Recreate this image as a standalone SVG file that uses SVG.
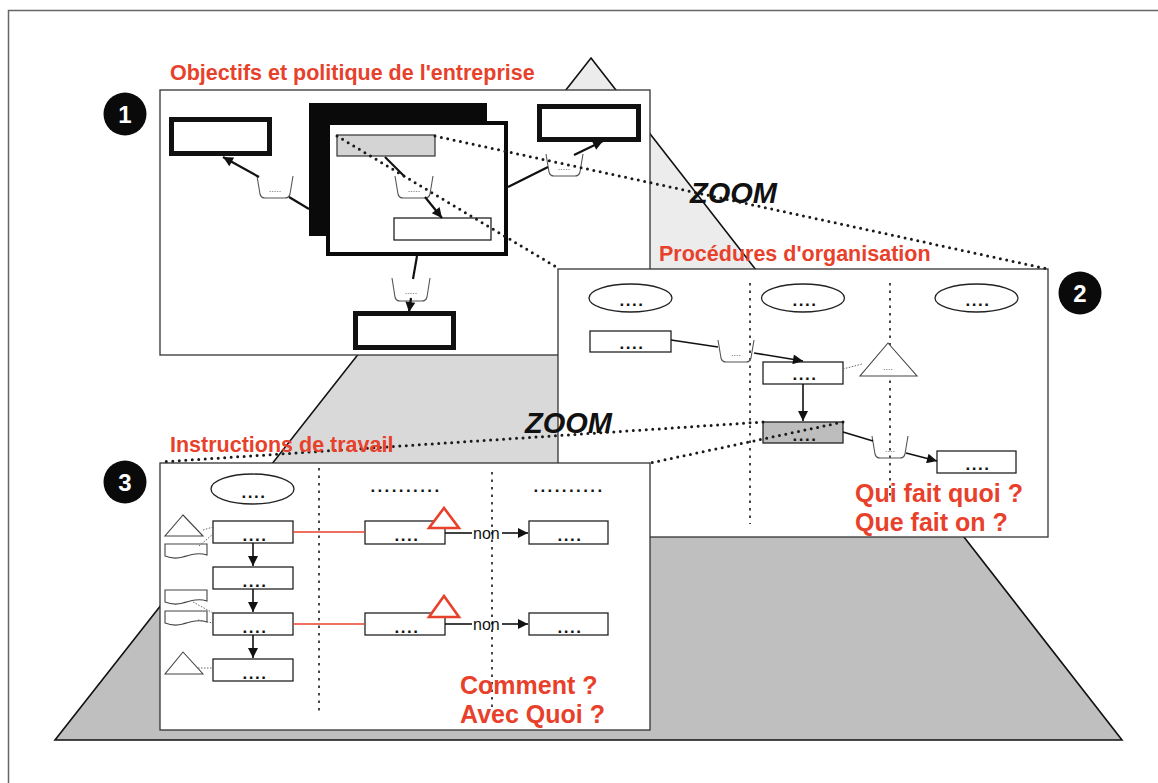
<svg xmlns="http://www.w3.org/2000/svg" width="1158" height="783" viewBox="0 0 1158 783">
  <defs>
    <marker id="arr" viewBox="0 0 10 10" refX="10" refY="5" markerUnits="userSpaceOnUse" markerWidth="13" markerHeight="10" orient="auto">
      <path d="M0,0 L10,5 L0,10 z" fill="#111"/>
    </marker>
    <style>
      .panel { fill: #fff; stroke: #333; stroke-width: 1.3; }
      .title { font-family: "Liberation Sans", Arial, sans-serif; font-weight: bold; font-size: 21.5px; fill: #e8412b; }
      .q { font-family: "Liberation Sans", Arial, sans-serif; font-weight: bold; font-size: 25px; fill: #e8412b; }
      .zoom { font-family: "Liberation Sans", Arial, sans-serif; font-weight: bold; font-style: italic; font-size: 29px; fill: #111; }
      .num { font-family: "Liberation Sans", Arial, sans-serif; font-weight: bold; font-size: 24px; fill: #fff; text-anchor: middle; }
      .thick { fill: #fff; stroke: #111; stroke-width: 5; }
      .box { fill: #fff; stroke: #222; stroke-width: 1.3; }
      .dots { font-family: "Liberation Sans", Arial, sans-serif; font-weight: bold; font-size: 17px; fill: #111; text-anchor: middle; letter-spacing: 1.5px; }
      .hdots { letter-spacing: 2.4px; }
      .tiny { font-family: "Liberation Sans", Arial, sans-serif; font-size: 9px; fill: #666; text-anchor: middle; }
      .tray { fill: none; stroke: #555; stroke-width: 1.1; }
      .link { stroke: #111; stroke-width: 2.2; fill: none; }
      .link2 { stroke: #111; stroke-width: 1.6; fill: none; }
      .lane { stroke: #333; stroke-width: 1.8; stroke-dasharray: 2.5 5; fill: none; }
      .zline { stroke: #1a1a1a; stroke-width: 3; stroke-dasharray: 0 6.5; stroke-linecap: round; fill: none; }
      .fine { stroke: #666; stroke-width: 1; stroke-dasharray: 1.5 1.5; fill: none; }
      .red { stroke: #e8412b; stroke-width: 1.3; fill: none; }
      .redtri { fill: #fff; stroke: #e8412b; stroke-width: 2.6; }
      .shape { fill: #fff; stroke: #444; stroke-width: 1.1; }
      .non { font-family: "Liberation Sans", Arial, sans-serif; font-size: 16px; fill: #111; }
    </style>
  </defs>

  <!-- outer frame -->
  <rect x="8.5" y="10.5" width="1170" height="800" fill="#fff" stroke="#666" stroke-width="1.5"/>

  <!-- pyramid in three levels -->
  <g id="pyramid">
    <polygon points="591,58 795,320 385,320" fill="#ececec"/>
    <polygon points="385,320 795,320 935,500 244,500" fill="#d9d9d9"/>
    <polygon points="244,500 935,500 1122,740 55,740" fill="#bfbfbf"/>
    <polygon points="591,58 1122,740 55,740" fill="none" stroke="#111" stroke-width="1.6"/>
  </g>

  <!-- level 1: company objectives -->
  <g id="panel1">
    <text class="title" x="170" y="80">Objectifs et politique de l'entreprise</text>
    <rect class="panel" x="160" y="90" width="490" height="265"/>
    <rect class="thick" x="171.5" y="119.5" width="98" height="34"/>
    <rect x="309" y="103" width="178" height="133" fill="#0a0a0a"/>
    <rect x="328" y="123" width="178" height="131" fill="#fff" stroke="#0a0a0a" stroke-width="4"/>
    <rect x="337" y="135" width="98" height="21" fill="#d4d4d4" stroke="#333" stroke-width="1.2"/>
    <rect class="box" x="394" y="218" width="97" height="22"/>
    <rect class="thick" x="539.5" y="106.5" width="99" height="33"/>
    <rect class="thick" x="355.5" y="313.5" width="98" height="34"/>

    <path class="tray" d="M257,176 L260,194 Q261,198 265,198 L285,198 Q289,198 290,194 L293,176"/>
    <text class="tiny" x="275" y="192">.....</text>
    <path class="tray" d="M395,176 L398,194 Q399,198 403,198 L425,198 Q429,198 430,194 L433,176"/>
    <text class="tiny" x="414" y="192">.....</text>
    <path class="tray" d="M546,154 L549,172 Q550,176 554,176 L575,176 Q579,176 580,172 L583,154"/>
    <text class="tiny" x="564" y="170">.....</text>
    <path class="tray" d="M392,278 L395,297 Q396,301 400,301 L422,301 Q426,301 427,297 L430,278"/>
    <text class="tiny" x="411" y="294">.....</text>
  </g>

  <g id="badge1">
    <circle cx="125" cy="114" r="21.5" fill="#0a0a0a"/>
    <text class="num" x="125" y="123">1</text>
  </g>

  <!-- level 2: organisation procedures -->
  <g id="panel2">
    <rect class="panel" x="558" y="269" width="490" height="268"/>
    <line class="lane" x1="750" y1="283" x2="750" y2="524"/>
    <line class="lane" x1="890" y1="283" x2="890" y2="500"/>

    <ellipse class="box" cx="630.5" cy="298" rx="41.5" ry="14" stroke-width="1.8"/>
    <text class="dots" x="632" y="306">....</text>
    <ellipse class="box" cx="803" cy="298" rx="41.5" ry="14" stroke-width="1.8"/>
    <text class="dots" x="805" y="306">....</text>
    <ellipse class="box" cx="976.5" cy="298" rx="41.5" ry="14" stroke-width="1.8"/>
    <text class="dots" x="978" y="306">....</text>

    <rect class="box" x="590" y="331" width="81" height="21"/>
    <text class="dots" x="632" y="349">....</text>
    <rect class="box" x="763" y="362" width="80" height="22"/>
    <text class="dots" x="805" y="380">....</text>
    <polygon class="shape" points="888,343 917,376 860,376"/>
    <text class="tiny" x="888" y="370">....</text>
    <rect x="763" y="422" width="80" height="21" fill="#bdbdbd" stroke="#222" stroke-width="1.3"/>
    <text class="dots" x="805" y="441">....</text>
    <rect class="box" x="937" y="451" width="79" height="22"/>
    <text class="dots" x="978" y="470">....</text>

    <path class="tray" d="M718,340 L721,358 Q722,362 726,362 L746,362 Q750,362 751,358 L754,340"/>
    <text class="tiny" x="736" y="356">....</text>
    <path class="tray" d="M872,436 L875,454 Q876,458 880,458 L900,458 Q904,458 905,454 L908,436"/>
    <text class="tiny" x="890" y="452">....</text>

    <text class="q" x="855" y="502">Qui fait quoi ?</text>
    <text class="q" x="855" y="531">Que fait on ?</text>
  </g>

  <g id="badge2">
    <circle cx="1080" cy="293" r="21.5" fill="#0a0a0a"/>
    <text class="num" x="1080" y="302">2</text>
  </g>

  <!-- level 3: work instructions -->
  <g id="panel3">
    <rect class="panel" x="160" y="463" width="490" height="267"/>
    <line class="lane" x1="319" y1="468" x2="319" y2="712"/>
    <line class="lane" x1="492" y1="472" x2="492" y2="712"/>

    <ellipse class="box" cx="252.5" cy="489" rx="41.5" ry="15" stroke-width="1.8"/>
    <text class="dots" x="254" y="498">....</text>
    <text class="dots hdots" x="406" y="492">..........</text>
    <text class="dots hdots" x="569" y="492">..........</text>

    <rect class="box" x="213" y="521" width="80" height="22"/>
    <text class="dots" x="255" y="541">....</text>
    <rect class="box" x="213" y="567" width="80" height="22"/>
    <text class="dots" x="255" y="587">....</text>
    <rect class="box" x="213" y="613" width="80" height="22"/>
    <text class="dots" x="255" y="633">....</text>
    <rect class="box" x="213" y="659" width="80" height="22"/>
    <text class="dots" x="255" y="679">....</text>

    <rect class="box" x="365" y="521" width="80" height="23"/>
    <text class="dots" x="407" y="541">....</text>
    <rect class="box" x="529" y="521" width="79" height="23"/>
    <text class="dots" x="570" y="541">....</text>
    <rect class="box" x="365" y="613" width="80" height="22"/>
    <text class="dots" x="407" y="633">....</text>
    <rect class="box" x="529" y="613" width="79" height="22"/>
    <text class="dots" x="570" y="633">....</text>

    <polygon class="shape" points="183,515 203,536 165,536"/>
    <path class="shape" d="M165,544 L207,544 L207,555 C198,552 190,555 183,557 C176,559 170,558 165,556 Z"/>
    <path class="shape" d="M165,590 L207,590 L207,601 C198,598 190,601 183,603 C176,605 170,604 165,602 Z"/>
    <path class="shape" d="M165,611 L207,611 L207,622 C198,619 190,622 183,624 C176,626 170,625 165,623 Z"/>
    <polygon class="shape" points="183,652 203,674 165,674"/>

    <polygon class="redtri" points="444,508 459,528 429,528"/>
    <polygon class="redtri" points="444,596 459,617 429,617"/>

    <text class="non" x="473" y="539">non</text>
    <text class="non" x="473" y="630">non</text>

    <text class="q" x="460" y="694">Comment ?</text>
    <text class="q" x="460" y="723">Avec Quoi ?</text>
  </g>

  <g id="badge3">
    <circle cx="125" cy="482" r="21.5" fill="#0a0a0a"/>
    <text class="num" x="125" y="491">3</text>
  </g>

  <!-- connectors -->
  <g id="connectors">
    <line class="link" x1="309" y1="209" x2="289" y2="197"/>
    <line class="link" x1="259" y1="177" x2="223" y2="157" marker-end="url(#arr)"/>
    <line class="link" x1="385" y1="157" x2="405" y2="177"/>
    <line class="link" x1="425" y1="197" x2="442" y2="218" marker-end="url(#arr)"/>
    <line class="link" x1="508" y1="187" x2="548" y2="167"/>
    <line class="link" x1="574" y1="155" x2="603" y2="141" marker-end="url(#arr)"/>
    <line class="link" x1="417" y1="256" x2="413" y2="279"/>
    <line class="link" x1="411" y1="298" x2="409" y2="312" marker-end="url(#arr)"/>

    <line class="link2" x1="671" y1="340" x2="718" y2="347"/>
    <line class="link2" x1="754" y1="353" x2="803" y2="361" marker-end="url(#arr)"/>
    <line class="link2" x1="803" y1="384" x2="803" y2="421" marker-end="url(#arr)"/>
    <line class="fine" x1="843" y1="369" x2="862" y2="364"/>
    <line class="link2" x1="843" y1="432" x2="873" y2="441"/>
    <line class="link2" x1="906" y1="453" x2="937" y2="461" marker-end="url(#arr)"/>

    <line class="link2" x1="253" y1="543" x2="253" y2="566" marker-end="url(#arr)"/>
    <line class="link2" x1="253" y1="589" x2="253" y2="612" marker-end="url(#arr)"/>
    <line class="link2" x1="253" y1="635" x2="253" y2="658" marker-end="url(#arr)"/>
    <line class="fine" x1="203" y1="530" x2="213" y2="527"/>
    <line class="fine" x1="199" y1="546" x2="213" y2="534"/>
    <line class="fine" x1="193" y1="602" x2="213" y2="613"/>
    <line class="fine" x1="198" y1="620" x2="213" y2="623"/>
    <line class="fine" x1="198" y1="668" x2="213" y2="668"/>

    <line class="red" x1="293" y1="532" x2="365" y2="532"/>
    <line class="red" x1="293" y1="624" x2="365" y2="624"/>
    <line class="link2" x1="445" y1="533" x2="472" y2="533"/>
    <line class="link2" x1="502" y1="533" x2="528" y2="533" marker-end="url(#arr)"/>
    <line class="link2" x1="445" y1="624" x2="472" y2="624"/>
    <line class="link2" x1="502" y1="624" x2="528" y2="624" marker-end="url(#arr)"/>

    <!-- zoom projection lines -->
    <line class="zline" x1="337" y1="136" x2="558" y2="268"/>
    <line class="zline" x1="435" y1="136" x2="1048" y2="269"/>
    <line class="zline" x1="763" y1="422" x2="160" y2="462"/>
    <line class="zline" x1="843" y1="422" x2="650" y2="463"/>
  </g>

  <text class="title" x="659" y="261">Procédures d'organisation</text>
  <text class="title" x="170" y="452">Instructions de travail</text>
  <text class="zoom" x="690" y="203">ZOOM</text>
  <text class="zoom" x="525" y="433">ZOOM</text>
</svg>
